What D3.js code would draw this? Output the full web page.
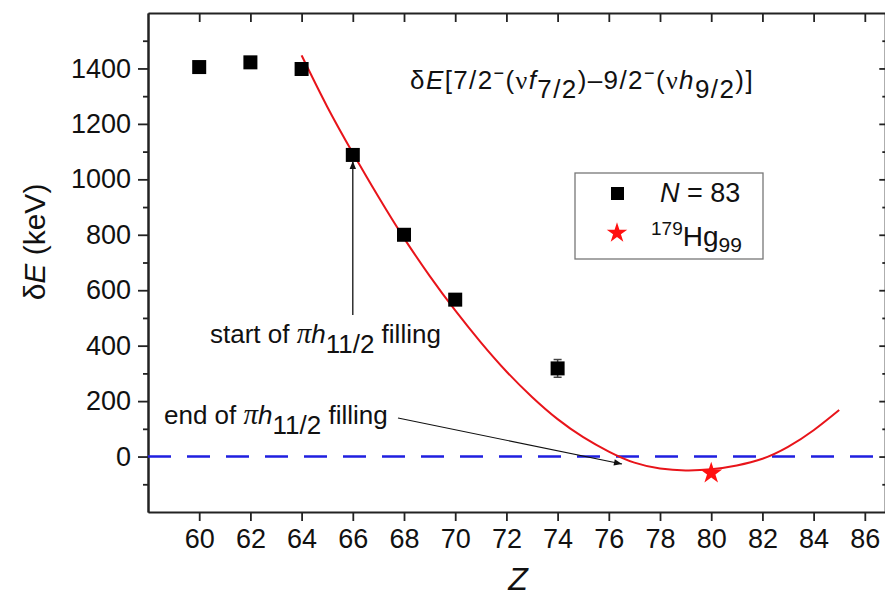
<!DOCTYPE html>
<html>
<head>
<meta charset="utf-8">
<script src="https://cdn.jsdelivr.net/npm/d3@7"></script>
<style>
  html, body { margin: 0; padding: 0; background: #fff; }
  svg { display: block; }
  text { font-family: "Liberation Sans", Arial, sans-serif; fill: #111; }
</style>
</head>
<body>
<svg id="chart" width="885" height="599"></svg>
<script>
// ---- data ----
const zN83 = [60, 62, 64, 66, 68, 70, 74];
const dEN83 = [1405, 1422, 1398, 1088, 800, 566, 318];
const errN83 = [0, 0, 0, 0, 0, 0, 32];

const zHg = [80];
const dEHg = [-60];

const fitZ = [64, 65, 66, 67, 68, 69, 70, 71, 72, 73, 74, 75, 76, 77, 78, 79, 80, 81, 82, 83, 84, 85];
const fitE = [1447, 1262, 1095, 937, 788, 652, 527, 412, 307, 215, 135, 70, 18, -22, -43, -50, -46, -32, -8, 35, 95, 168];

const xMajorTicks = [60, 62, 64, 66, 68, 70, 72, 74, 76, 78, 80, 82, 84, 86];
const yMajorTicks = [0, 200, 400, 600, 800, 1000, 1200, 1400];
const yMinorTicks = [-100, 100, 300, 500, 700, 900, 1100, 1300, 1500];

const svg = d3.select("#chart");
const x = d3.scaleLinear().domain([58, 86.8]).range([148, 885.3]);
const y = d3.scaleLinear().domain([-200, 1600]).range([512, 13]);

const AX = "#222";
function styleAxis(g, fs) {
  g.select(".domain").attr("stroke", AX).attr("stroke-width", 2);
  g.selectAll(".tick line").attr("stroke", AX).attr("stroke-width", 1.8);
  g.selectAll(".tick text").attr("font-size", fs).attr("fill", "#111")
    .attr("font-family", "Liberation Sans, Arial, sans-serif");
}
const fmt = d3.format("d");

// bottom axis
const gb = svg.append("g").attr("transform", `translate(0,${y(-200)})`)
  .call(d3.axisBottom(x).tickValues(xMajorTicks).tickFormat(fmt).tickSize(9).tickPadding(8).tickSizeOuter(0));
styleAxis(gb, 27);
// top axis (inward ticks)
const gt = svg.append("g").attr("transform", `translate(0,${y(1600)})`)
  .call(d3.axisTop(x).tickValues(xMajorTicks).tickSize(-9).tickSizeOuter(0).tickFormat(""));
styleAxis(gt, 0);
// left axis
const gl = svg.append("g").attr("transform", `translate(${x(58)},0)`)
  .call(d3.axisLeft(y).tickValues(yMajorTicks).tickFormat(fmt).tickSize(10).tickPadding(7).tickSizeOuter(0));
styleAxis(gl, 27);
const glm = svg.append("g").attr("transform", `translate(${x(58)},0)`)
  .call(d3.axisLeft(y).tickValues(yMinorTicks).tickSize(5).tickFormat("").tickSizeOuter(0));
styleAxis(glm, 0);
// right axis (inward ticks)
const gr = svg.append("g").attr("transform", `translate(${x(86.8)},0)`)
  .call(d3.axisRight(y).tickValues(yMajorTicks).tickSize(-6).tickFormat("").tickSizeOuter(0));
styleAxis(gr, 0);
const grm = svg.append("g").attr("transform", `translate(${x(86.8)},0)`)
  .call(d3.axisRight(y).tickValues(yMinorTicks).tickSize(-3).tickFormat("").tickSizeOuter(0));
styleAxis(grm, 0);

// zero line (blue dashed)
svg.append("line")
  .attr("x1", x(58)).attr("x2", x(86.8)).attr("y1", y(0)).attr("y2", y(0))
  .attr("stroke", "#1f1fe0").attr("stroke-width", 2.6).attr("stroke-dasharray", "23,16");

// fit curve
svg.append("path")
  .datum(fitZ.map((z, i) => [z, fitE[i]]))
  .attr("fill", "none").attr("stroke", "#e8141a").attr("stroke-width", 2)
  .attr("d", d3.line().x(d => x(d[0])).y(d => y(d[1])).curve(d3.curveNatural));

// error bars
zN83.forEach((z, i) => {
  if (errN83[i] > 0) {
    const cx = x(z);
    svg.append("line").attr("x1", cx).attr("x2", cx)
      .attr("y1", y(dEN83[i] - errN83[i])).attr("y2", y(dEN83[i] + errN83[i]))
      .attr("stroke", "#444").attr("stroke-width", 1.5);
    [dEN83[i] - errN83[i], dEN83[i] + errN83[i]].forEach(v => {
      svg.append("line").attr("x1", cx - 4).attr("x2", cx + 4)
        .attr("y1", y(v)).attr("y2", y(v)).attr("stroke", "#444").attr("stroke-width", 1.5);
    });
  }
});

// squares
svg.selectAll("rect.pt").data(zN83).enter().append("rect")
  .attr("class", "pt")
  .attr("x", d => x(d) - 7).attr("y", (d, i) => y(dEN83[i]) - 7)
  .attr("width", 14).attr("height", 14).attr("fill", "#000");

// star
const starSym = d3.symbol().type(d3.symbolStar);
svg.selectAll("path.star").data(zHg).enter().append("path")
  .attr("class", "star")
  .attr("transform", (d, i) => `translate(${x(d)},${y(dEHg[i])})`)
  .attr("d", starSym.size(150)()).attr("fill", "#ff1010");

// arrow markers
const defs = svg.append("defs");
defs.append("marker").attr("id", "ah").attr("viewBox", "0 0 10 10")
  .attr("refX", 10).attr("refY", 5).attr("markerWidth", 11).attr("markerHeight", 8)
  .attr("markerUnits", "userSpaceOnUse").attr("orient", "auto")
  .append("path").attr("d", "M0,1 L10,5 L0,9 Z").attr("fill", "#111");

// start-of annotation
svg.append("line").attr("x1", x(66)).attr("x2", x(66))
  .attr("y1", 315).attr("y2", 161)
  .attr("stroke", "#111").attr("stroke-width", 1.3).attr("marker-end", "url(#ah)");
function pifilling(xp, yp, lead) {
  const tx = svg.append("text").attr("x", xp).attr("y", yp).attr("font-size", 26);
  tx.append("tspan").text(lead);
  tx.append("tspan").attr("font-family", "Liberation Serif, serif").attr("font-style", "italic").attr("font-size", 29).text("π");
  tx.append("tspan").attr("font-style", "italic").text("h");
  tx.append("tspan").attr("dy", 10).text("11/2");
  tx.append("tspan").attr("dy", -10).text(" filling");
}
pifilling(210, 343, "start of ");
pifilling(164, 424, "end of ");
svg.append("line").attr("x1", 398).attr("y1", 418).attr("x2", 622).attr("y2", 464)
  .attr("stroke", "#111").attr("stroke-width", 1.2).attr("marker-end", "url(#ah)");

// title annotation
{
  const t = svg.append("text").attr("x", 410).attr("y", 89).attr("font-size", 26)
    .attr("letter-spacing", 1.4);
  t.append("tspan").text("δ");
  t.append("tspan").attr("font-style", "italic").text("E");
  t.append("tspan").text("[7/2");
  t.append("tspan").attr("dy", -10).attr("font-size", 18).text("−");
  t.append("tspan").attr("dy", 10).text("(");
  t.append("tspan").attr("font-family", "Liberation Serif, serif").text("ν");
  t.append("tspan").attr("font-style", "italic").text("f");
  t.append("tspan").attr("dy", 9).text("7/2");
  t.append("tspan").attr("dy", -9).text(")–9/2");
  t.append("tspan").attr("dy", -10).attr("font-size", 18).text("−");
  t.append("tspan").attr("dy", 10).text("(");
  t.append("tspan").attr("font-family", "Liberation Serif, serif").text("ν");
  t.append("tspan").attr("font-style", "italic").text("h");
  t.append("tspan").attr("dy", 9).text("9/2");
  t.append("tspan").attr("dy", -9).text(")]");
}

// legend
svg.append("rect").attr("x", 575).attr("y", 173).attr("width", 188).attr("height", 86)
  .attr("fill", "#fff").attr("stroke", "#777").attr("stroke-width", 1.3);
svg.append("rect").attr("x", 611).attr("y", 187).attr("width", 13).attr("height", 13).attr("fill", "#000");
{
  const t = svg.append("text").attr("x", 660).attr("y", 202).attr("font-size", 27);
  t.append("tspan").attr("font-style", "italic").text("N");
  t.append("tspan").text(" = 83");
}
svg.append("path").attr("transform", "translate(617,233)").attr("d", starSym.size(130)()).attr("fill", "#ff1010");
{
  const t = svg.append("text").attr("x", 651).attr("y", 246).attr("font-size", 28);
  t.append("tspan").attr("dy", -11).attr("font-size", 19).text("179");
  t.append("tspan").attr("dy", 11).text("Hg");
  t.append("tspan").attr("dy", 6).attr("font-size", 21).text("99");
}

// axis titles
{
  const t = svg.append("text").attr("transform", "translate(45,242) rotate(-90)")
    .attr("text-anchor", "middle").attr("font-size", 30);
  t.append("tspan").text("δ");
  t.append("tspan").attr("font-style", "italic").text("E");
  t.append("tspan").text(" (keV)");
}
svg.append("text").attr("x", 518).attr("y", 590).attr("text-anchor", "middle")
  .attr("font-size", 32).attr("font-style", "italic").text("Z");
</script>
</body>
</html>
